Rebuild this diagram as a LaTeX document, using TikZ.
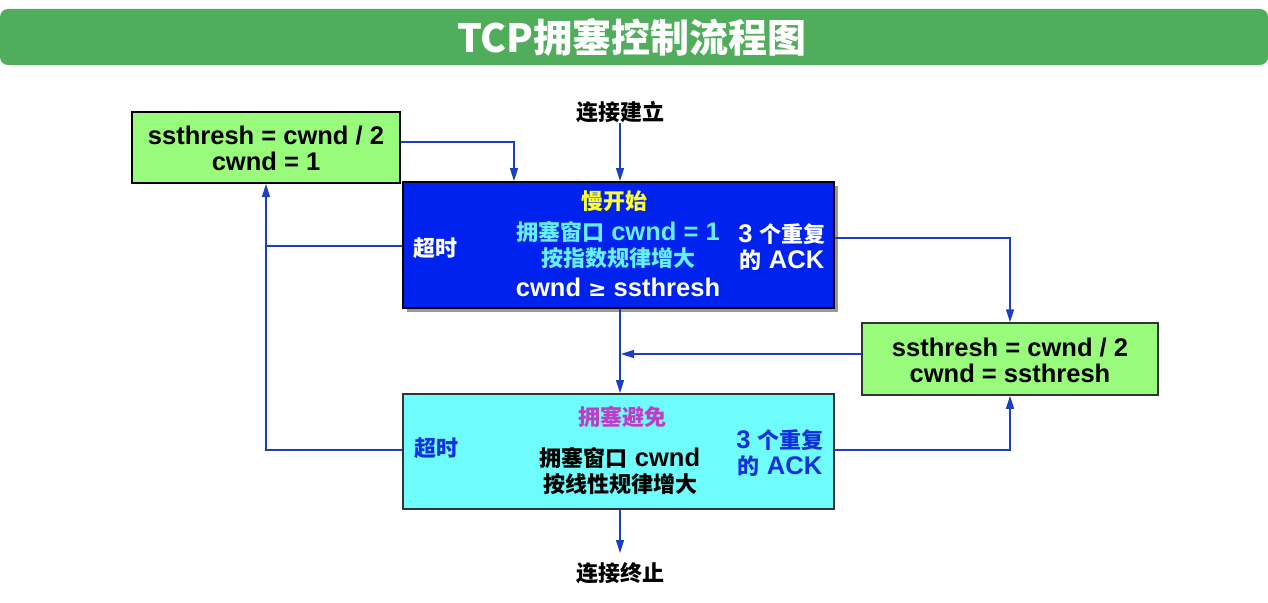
\documentclass[tikz,border=0pt]{standalone}
\usepackage{fontspec}
\setmainfont{Noto Sans CJK SC}
\newfontfamily\lf{Liberation Sans}[Scale=1.16]
\newfontfamily\sym{DejaVu Sans}
\usetikzlibrary{arrows.meta,shadows,calc}
\definecolor{titlegreen}{HTML}{4FAD5B}
\definecolor{boxgreen}{HTML}{98FB7C}
\definecolor{ssblue}{HTML}{0022EE}
\definecolor{cacyan}{HTML}{6FFCFC}
\definecolor{arrblue}{HTML}{1A3FC4}
\definecolor{ylw}{HTML}{FFFF30}
\definecolor{lcyan}{HTML}{66F0F4}
\definecolor{mag}{HTML}{C03CC8}
\definecolor{dblue}{HTML}{1030E0}
\definecolor{dgray}{HTML}{333333}
\begin{document}
\begin{tikzpicture}[x=1pt,y=-1pt,
  txt/.style={font=\fontsize{22}{26}\selectfont\bfseries, align=center, inner sep=0pt},
  box/.style={rectangle, draw, line width=2pt, inner sep=0pt},
  arr/.style={draw=arrblue, line width=1.5pt, -{Triangle[length=13pt,width=8pt]}},
  ln/.style={draw=arrblue, line width=1.5pt}]
\useasboundingbox (0,0) rectangle (1268,602);
% title
\node[rectangle, rounded corners=8pt, fill=titlegreen, minimum width=1268pt, minimum height=56pt, inner sep=0pt] (title) at (634,37) {};
\node[font=\fontsize{39}{42}\selectfont\bfseries, text=white, inner sep=0pt] (ttext) at (632,37) {TCP拥塞控制流程图};
% boxes
\node[box, fill=boxgreen, minimum width=268pt, minimum height=71pt] (A) at (266,147.5) {};
\node[txt] (At) at (266,148) {\lf\bfseries ssthresh = cwnd / 2\\\lf\bfseries cwnd = 1};
\node[box, fill=ssblue, minimum width=431pt, minimum height=126pt, drop shadow={shadow xshift=4pt, shadow yshift=-4pt, fill=gray, opacity=0.8}] (B) at (618.5,245) {};
\node[box, draw=dgray, line width=1.5pt, fill=boxgreen, minimum width=296pt, minimum height=72pt] (C) at (1010,359) {};
\node[txt] (Ct) at (1010,360) {\lf\bfseries ssthresh = cwnd / 2\\\lf\bfseries cwnd = ssthresh};
\node[box, draw=dgray, fill=cacyan, minimum width=431pt, minimum height=115pt] (D) at (618.5,451.5) {};
% texts in B
\node[txt, text=ylw] (B1) at (614,201) {慢开始};
\node[txt, text=lcyan] (B2) at (618,245) {拥塞窗口{\lf\bfseries{} cwnd = 1}\\按指数规律增大};
\node[txt, text=white] (B3) at (618,287) {\lf\bfseries cwnd {\sym\bfseries ≥} ssthresh};
\node[txt, text=white] (B4) at (435,248) {超时};
\node[txt, text=white] (B5) at (782,247) {{\lf\bfseries 3 }个重复\\的{\lf\bfseries{} ACK}};
% texts in D
\node[txt, text=mag] (D1) at (622,417) {拥塞避免};
\node[txt, text=dblue] (D2) at (436,448) {超时};
\node[txt] (D3) at (620,471) {拥塞窗口{\lf\bfseries{} cwnd}\\按线性规律增大};
\node[txt, text=dblue] (D4) at (780,453) {{\lf\bfseries 3 }个重复\\的{\lf\bfseries{} ACK}};
% start / end
\node[txt] (start) at (620,112) {连接建立};
\node[txt] (stop) at (620,573) {连接终止};
\coordinate (endp) at (620,553);
% connectors
\draw[arr] (start.south) -- (start.south |- B.north);
\draw[arr] (D.south -| endp) -- (endp);
\draw[arr] (A.east |- 0,142) -| (B.north -| 514,0);
\draw[arr] (B.south -| 620,0) -- (D.north -| 620,0);
\draw[arr] (C.west |- 0,354) -- (621,354);
\draw[arr] (B.east |- 0,238) -| (C.north);
\draw[arr] (D.east |- 0,450) -| (C.south);
\draw[ln] (B.west |- 0,246) -- (266,246);
\draw[arr] (D.west |- 0,450) -| (A.south);
\end{tikzpicture}
\end{document}
